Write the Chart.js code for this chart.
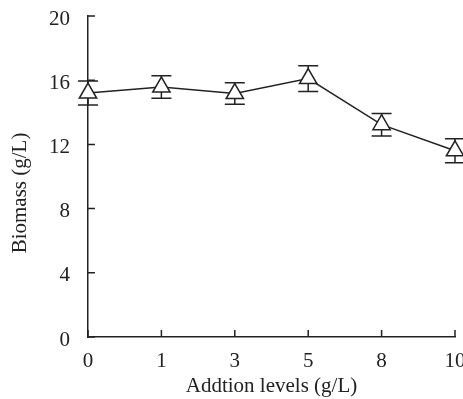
<!DOCTYPE html>
<html><head><meta charset="utf-8">
<script src="https://cdn.jsdelivr.net/npm/chart.js@4.4.1/dist/chart.umd.min.js"></script>
<style>html,body{margin:0;padding:0;background:#fff}#wrap{width:463px;height:399px}</style>
</head><body><div id="wrap"><canvas id="c" width="463" height="399"></canvas></div>
<script>
const categories = ["0","1","3","5","8","10"];
const biomass = [15.2, 15.57, 15.17, 16.1, 13.23, 11.6];
const errors = [0.75, 0.7, 0.67, 0.8, 0.7, 0.75];
const yTicks = [0, 4, 8, 12, 16, 20];
const xTitle = 'Addtion levels (g/L)';
const yTitle = 'Biomass (g/L)';

const FONT = "'Liberation Serif', 'Times New Roman', serif";
const INK = '#222';
const FS = 21;

const errorBars = {
  id: 'errorBars',
  beforeDatasetsDraw(chart) {
    const ctx = chart.ctx, x = chart.scales.x, y = chart.scales.y;
    ctx.save();
    ctx.strokeStyle = INK; ctx.lineWidth = 1.5;
    biomass.forEach((v, i) => {
      const px = x.getPixelForValue(i);
      const t = y.getPixelForValue(v + errors[i]);
      const b = y.getPixelForValue(v - errors[i]);
      ctx.beginPath();
      ctx.moveTo(px, t); ctx.lineTo(px, b);
      ctx.moveTo(px - 10, t); ctx.lineTo(px + 10, t);
      ctx.moveTo(px - 10, b); ctx.lineTo(px + 10, b);
      ctx.stroke();
    });
    ctx.restore();
  },
  afterDraw(chart) {
    const ctx = chart.ctx, x = chart.scales.x, y = chart.scales.y;
    ctx.save();
    ctx.strokeStyle = INK; ctx.lineWidth = 1.5;
    ctx.beginPath();
    y.ticks.forEach((t, i) => {
      const py = y.getPixelForTick(i);
      ctx.moveTo(x.left, py); ctx.lineTo(x.left + 7, py);
    });
    x.ticks.forEach((t, i) => {
      const px = x.getPixelForTick(i);
      ctx.moveTo(px, y.bottom); ctx.lineTo(px, y.bottom - 7);
    });
    ctx.stroke();
    // y-axis title
    ctx.fillStyle = INK;
    ctx.font = FS + 'px ' + FONT;
    ctx.textAlign = 'center';
    ctx.textBaseline = 'alphabetic';
    ctx.translate(26, 193);
    ctx.rotate(-Math.PI / 2);
    ctx.fillText(yTitle, 0, 0);
    ctx.restore();
  }
};

new Chart(document.getElementById('c'), {
  type: 'line',
  data: {
    labels: categories,
    datasets: [{
      data: biomass,
      borderColor: INK,
      borderWidth: 1.5,
      pointStyle: 'triangle',
      pointRadius: 10,
      pointBackgroundColor: '#fff',
      pointBorderColor: INK,
      pointBorderWidth: 1.5,
      tension: 0,
      clip: false
    }]
  },
  options: {
    responsive: false,
    animation: false,
    events: [],
    layout: { autoPadding: false, padding: { top: 16, right: 8, left: 0, bottom: 0 } },
    plugins: { legend: { display: false }, tooltip: { enabled: false } },
    scales: {
      x: {
        offset: false,
        afterFit(scale) { scale.height = 62; scale.paddingLeft = 0; scale.paddingRight = 0; },
        grid: { display: false, drawTicks: false },
        border: { display: true, color: INK, width: 1.5 },
        ticks: { color: INK, font: { family: FONT, size: FS }, padding: 12, maxRotation: 0, autoSkip: false },
        title: { display: true, text: xTitle, color: INK, font: { family: FONT, size: FS }, padding: { top: 0, bottom: 0 } }
      },
      y: {
        min: 0, max: 20,
        afterFit(scale) { scale.width = 88; scale.paddingTop = 0; scale.paddingBottom = 0; },
        afterBuildTicks(scale) { scale.ticks = yTicks.map(v => ({ value: v })); },
        grid: { display: false, drawTicks: false },
        border: { display: true, color: INK, width: 1.5 },
        ticks: { color: INK, font: { family: FONT, size: FS }, padding: 18, labelOffset: 3 },
        title: { display: false }
      }
    }
  },
  plugins: [errorBars]
});
</script></body></html>
